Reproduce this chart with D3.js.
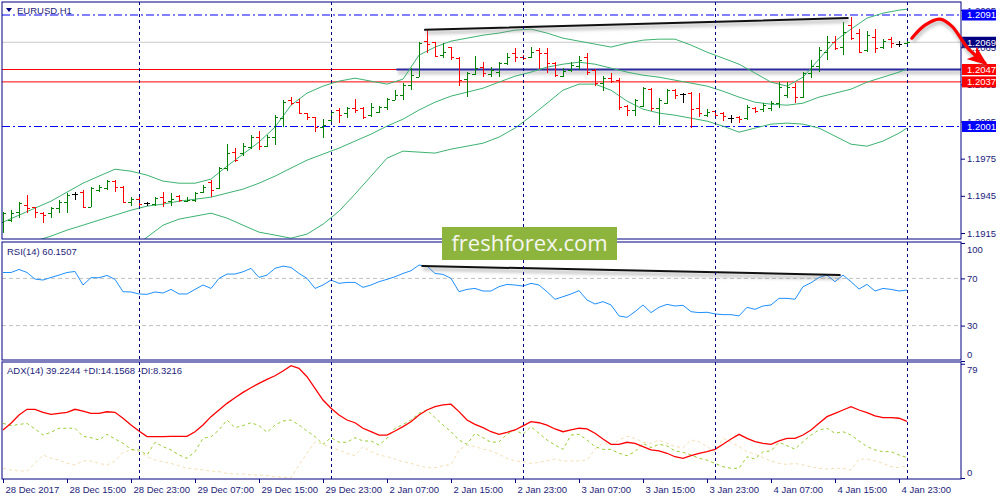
<!DOCTYPE html>
<html>
<head>
<meta charset="utf-8">
<script src="https://cdn.jsdelivr.net/npm/d3@7"></script>
<style>
  html, body { margin: 0; padding: 0; background: #fff; }
  svg { display: block; font-family: Tahoma, "Liberation Sans", Arial, sans-serif; }
</style>
</head>
<body>
<div id="chart"></div>
<script>
// EURUSD H1, 28 Dec 2017 07:00 .. 5 Jan 2018 00:00 (114 bars)
var opens = [1.19238,1.19254,1.19318,1.19375,1.19359,1.19310,1.19310,1.19351,1.19399,1.19464,
  1.19480,1.19359,1.19496,1.19512,1.19569,1.19520,1.19399,1.19423,1.19391,1.19383,
  1.19439,1.19407,1.19447,1.19407,1.19415,1.19480,1.19561,1.19512,1.19674,1.19803,
  1.19795,1.19843,1.19924,1.19851,1.19924,1.20077,1.20223,1.20206,1.20118,1.20085,
  1.20005,1.20061,1.20143,1.20118,1.20158,1.20158,1.20101,1.20126,1.20166,1.20223,
  1.20263,1.20344,1.20408,1.20699,1.20691,1.20586,1.20651,1.20562,1.20392,1.20433,
  1.20489,1.20433,1.20449,1.20521,1.20602,1.20570,1.20570,1.20626,1.20602,1.20521,
  1.20416,1.20465,1.20497,1.20570,1.20465,1.20360,1.20400,1.20384,1.20174,1.20143,
  1.20174,1.20311,1.20158,1.20198,1.20303,1.20271,1.20279,1.20158,1.20101,1.20134,
  1.20118,1.20077,1.20085,1.20077,1.20158,1.20150,1.20158,1.20198,1.20263,1.20328,
  1.20247,1.20441,1.20497,1.20610,1.20691,1.20651,1.20828,1.20764,1.20626,1.20731,
  1.20651,1.20715,1.20675,1.20683];
var highs = [1.19318,1.19334,1.19399,1.19456,1.19359,1.19318,1.19359,1.19415,1.19472,1.19480,
  1.19496,1.19520,1.19536,1.19577,1.19577,1.19528,1.19439,1.19439,1.19399,1.19439,
  1.19480,1.19472,1.19456,1.19439,1.19480,1.19536,1.19577,1.19682,1.19867,1.19835,
  1.19875,1.19940,1.19972,1.19940,1.20101,1.20223,1.20247,1.20231,1.20118,1.20085,
  1.20069,1.20143,1.20158,1.20166,1.20231,1.20166,1.20198,1.20174,1.20239,1.20303,
  1.20360,1.20481,1.20691,1.20796,1.20691,1.20683,1.20651,1.20570,1.20449,1.20578,
  1.20529,1.20489,1.20529,1.20602,1.20642,1.20586,1.20651,1.20642,1.20642,1.20529,
  1.20481,1.20529,1.20578,1.20602,1.20473,1.20416,1.20441,1.20400,1.20182,1.20231,
  1.20328,1.20319,1.20239,1.20311,1.20311,1.20279,1.20287,1.20279,1.20150,1.20143,
  1.20126,1.20101,1.20093,1.20182,1.20166,1.20198,1.20215,1.20368,1.20368,1.20360,
  1.20449,1.20546,1.20651,1.20739,1.20739,1.20852,1.20893,1.20796,1.20780,1.20796,
  1.20715,1.20731,1.20699,1.20715];
var lows = [1.19149,1.19238,1.19270,1.19310,1.19270,1.19229,1.19270,1.19310,1.19310,1.19415,
  1.19359,1.19359,1.19480,1.19496,1.19480,1.19399,1.19367,1.19367,1.19367,1.19367,
  1.19359,1.19367,1.19399,1.19399,1.19399,1.19472,1.19439,1.19504,1.19649,1.19722,
  1.19770,1.19827,1.19820,1.19843,1.19859,1.20005,1.20182,1.20118,1.20061,1.19964,
  1.19916,1.20037,1.20037,1.20077,1.20118,1.20069,1.20085,1.20118,1.20143,1.20223,
  1.20223,1.20303,1.20408,1.20602,1.20570,1.20562,1.20546,1.20336,1.20247,1.20424,
  1.20408,1.20408,1.20408,1.20505,1.20529,1.20546,1.20562,1.20473,1.20441,1.20408,
  1.20408,1.20449,1.20465,1.20424,1.20336,1.20295,1.20360,1.20143,1.20093,1.20093,
  1.20166,1.20134,1.20021,1.20190,1.20231,1.20198,1.19997,1.20085,1.20085,1.20093,
  1.20053,1.20037,1.20037,1.20061,1.20118,1.20126,1.20134,1.20158,1.20239,1.20198,
  1.20239,1.20400,1.20449,1.20546,1.20626,1.20586,1.20707,1.20602,1.20610,1.20602,
  1.20634,1.20642,1.20651,1.20651];
var closes = [1.19310,1.19310,1.19391,1.19351,1.19318,1.19294,1.19351,1.19399,1.19456,1.19464,
  1.19359,1.19512,1.19520,1.19569,1.19520,1.19399,1.19423,1.19383,1.19391,1.19431,
  1.19399,1.19423,1.19415,1.19415,1.19472,1.19520,1.19496,1.19674,1.19795,1.19738,
  1.19851,1.19924,1.19851,1.19924,1.20085,1.20206,1.20198,1.20118,1.20085,1.20005,
  1.20021,1.20126,1.20101,1.20158,1.20143,1.20085,1.20166,1.20166,1.20231,1.20263,
  1.20344,1.20424,1.20683,1.20675,1.20578,1.20610,1.20570,1.20384,1.20441,1.20481,
  1.20441,1.20465,1.20521,1.20570,1.20570,1.20562,1.20610,1.20602,1.20521,1.20424,
  1.20457,1.20505,1.20546,1.20449,1.20360,1.20400,1.20376,1.20166,1.20143,1.20223,
  1.20319,1.20158,1.20223,1.20303,1.20263,1.20271,1.20150,1.20118,1.20126,1.20101,
  1.20093,1.20077,1.20069,1.20166,1.20134,1.20182,1.20198,1.20328,1.20328,1.20247,
  1.20441,1.20497,1.20626,1.20691,1.20642,1.20772,1.20723,1.20610,1.20747,1.20642,
  1.20699,1.20683,1.20675,1.20691];

// Bollinger bands, read at every second bar (and the last one)
var bandIdx = d3.range(0, 113, 2).concat([113]);
var bbUpper = [1.19238,1.19294,1.19351,1.19407,1.19480,1.19552,1.19609,1.19665,1.19649,1.19617,
  1.19569,1.19552,1.19552,1.19585,1.19690,1.19787,1.19884,1.20005,1.20182,1.20279,
  1.20336,1.20376,1.20400,1.20376,1.20352,1.20392,1.20586,1.20651,1.20699,1.20723,
  1.20747,1.20764,1.20788,1.20796,1.20764,1.20723,1.20699,1.20675,1.20651,1.20683,
  1.20707,1.20715,1.20715,1.20667,1.20610,1.20562,1.20513,1.20441,1.20368,1.20336,
  1.20408,1.20554,1.20699,1.20796,1.20885,1.20925,1.20949,1.20957];
var bbMiddle = [1.19003,1.19044,1.19084,1.19125,1.19173,1.19213,1.19254,1.19294,1.19334,1.19367,
  1.19383,1.19407,1.19423,1.19439,1.19472,1.19504,1.19552,1.19609,1.19674,1.19738,
  1.19787,1.19835,1.19892,1.19948,1.20013,1.20069,1.20143,1.20206,1.20255,1.20287,
  1.20319,1.20368,1.20416,1.20449,1.20489,1.20513,1.20529,1.20513,1.20481,1.20449,
  1.20424,1.20408,1.20384,1.20360,1.20336,1.20295,1.20247,1.20206,1.20190,1.20182,
  1.20198,1.20247,1.20279,1.20311,1.20368,1.20408,1.20449,1.20473];
var bbLower = [1.18769,1.18794,1.18818,1.18842,1.18866,1.18874,1.18898,1.18923,1.19020,1.19116,
  1.19213,1.19262,1.19286,1.19310,1.19270,1.19213,1.19157,1.19133,1.19108,1.19141,
  1.19221,1.19326,1.19464,1.19609,1.19754,1.19811,1.19803,1.19795,1.19827,1.19851,
  1.19875,1.19924,1.19997,1.20093,1.20198,1.20303,1.20352,1.20352,1.20303,1.20215,
  1.20150,1.20118,1.20101,1.20077,1.20053,1.20013,1.19964,1.19997,1.20029,1.20037,
  1.20029,1.19997,1.19932,1.19867,1.19851,1.19892,1.19956,1.19997];

var rsi = [75,75,77.6,75,69.4,68.6,70.8,72.8,75,75.9,
  64.4,70.6,70.6,72.5,69.2,58.7,58.5,56.8,56.5,58.5,
  57.6,60.7,56.8,56.8,60.7,64.4,61.5,70,73.7,73.7,
  75.6,78.5,70.8,72.8,78.5,80.4,79.3,74.2,70,61.5,
  64.4,68.6,65.8,66.6,66.6,62.4,64.4,67.2,69.2,71.4,
  74.2,76.5,81.3,80.5,74.2,73.4,70,58.7,60.7,61.5,
  59.3,59.3,63,64.9,64.4,63.5,65.8,64.4,58.7,52.3,
  54.5,56.8,59.6,51.7,48.3,50.3,47.5,38.2,37,41.8,
  47.5,41,45.5,48,46.6,47.2,41.8,41,41.3,39.9,
  39.3,39.3,38.2,45.5,43.8,46.6,47.5,53.1,53.1,52.3,
  63,66.3,70.8,72.8,67.2,72.8,67.2,61,64.9,59.3,
  61.5,60.7,59.3,60.15];

var adx = [33.2,37.8,43.6,47.5,47.5,45.4,44,44.7,45.4,47.5,
  46.3,44.7,44.7,45.8,45.4,41.3,36.6,32.5,28.6,28.6,
  28.6,28.8,28.8,28.8,32,36.6,42.4,47,51.6,55.5,
  59.2,62.4,65.4,68.2,70.7,74,77.6,75.8,70,62,
  53.9,48.2,43.6,40.1,38.2,34.4,32,29.7,29.7,32.5,
  35.5,38.9,43.6,47,49.3,50.5,51,45.9,40.1,37.1,
  34.8,32,30.2,31.6,33.2,36,38.9,38.2,36.6,33.9,
  32,33.2,34.4,33.9,30.9,27,23.3,23.3,24.7,24,
  21.7,19.4,18.7,17.1,14.7,13.6,15.4,17.1,18.2,19.8,
  23.3,27,30.2,27.4,25.1,24,23.3,25.6,27.4,27.4,
  29.7,33.2,37.8,42.4,44.7,47,49.3,47,45.2,42.9,
  41.7,41.7,41.3,39.22];
var plusDI = [37.8,36.2,37,37.8,33.9,29.7,31.6,34.4,34.4,34.4,
  28.8,27.9,26.3,30.2,27,24,19.8,19.4,15.9,24.7,
  21.7,19.4,15.9,13.6,18.2,27.4,28.6,33.2,40.1,34.8,
  36.2,38.2,36.2,31.6,36.6,39.4,40.1,36.6,32.5,28.6,
  23.3,27.9,24.7,24.7,27.9,25.6,25.6,22.8,27.4,34.4,
  37,40.1,44.7,47,41.7,36.6,32,26.3,23.3,30.9,
  27.9,24.7,25,30.2,33.2,30.2,35.5,30.9,26.3,22.8,
  19.8,29.7,30.2,26.3,21.7,19.8,19.8,17.1,15.4,18.2,
  24,21,23.3,22.3,18.7,17.8,15.9,13.6,12.4,10.1,
  7.8,6.7,6.7,14.7,13.1,18.2,18.7,24.7,22.3,20,
  25.1,29.7,33.2,34.4,30.9,32,29.7,25.6,21.7,19.4,
  18.2,18.2,15.9,14.16];
var minusDI = [6.7,5.5,4.8,4.8,10.1,15.9,13.6,12.4,10.1,9,
  11.8,11.8,10.1,9,11.8,17.8,19.4,18.2,14.7,12.4,
  11.3,10.1,8.5,6.7,6.2,5.5,4.8,4.4,3.2,2.8,
  2.8,2.1,2.1,1.6,0.9,0.5,0.2,9,17.1,25.1,
  23.3,21,19.4,17.1,15.4,21.7,18.2,15.9,14.7,13.1,
  11.3,10.1,8.5,7.1,7.1,8.5,9.4,19.4,22.8,21.7,
  20,18.7,16.4,13.6,11.8,11.3,10.1,10.8,11.8,13.1,
  11.8,11.8,11.8,12.4,20,24,22.8,26.3,28.8,27.4,
  24.7,24,26.3,24,21.7,21,26.3,25.1,21.7,18.2,
  27.4,24.7,21.7,18.2,16.4,14,11.8,10.1,9.4,10.1,
  9,7.8,6.7,6.2,6.7,6.7,5.5,13.1,13.1,11.8,
  10.1,7.8,7.1,8.32];

var timeLabels = ["28 Dec 2017","28 Dec 15:00","28 Dec 23:00","29 Dec 07:00","29 Dec 15:00",
  "29 Dec 23:00","2 Jan 07:00","2 Jan 15:00","2 Jan 23:00","3 Jan 07:00","3 Jan 15:00",
  "3 Jan 23:00","4 Jan 07:00","4 Jan 15:00","4 Jan 23:00"];
var timeTickIdx = [0,8,16,24,32,40,48,56,64,72,80,88,96,104,112];
var daySeparators = [17, 41, 65, 89, 113];
var priceTicks = [1.1915, 1.1945, 1.1975, 1.2005, 1.2035, 1.2065, 1.2095];
var rsiTicks = [100, 70, 30, 0];
var rsiLevels = [70, 30];
var adxTicks = [79, 0];

// drawn objects on the chart
var dashLevels = [1.2091, 1.2001];
var redLevels = [1.2047, 1.2037];
var bidLevel = 1.2069;
var zoneLevel = { from: 49.25, price: 1.2047 };
var priceTrend = [[52.75, 1.20790], [105.6, 1.20885]];
var rsiTrend = [[52.4, 80.5], [104.6, 72.9]];
var arrowPts = [[113.6,1.20723],[115.25,1.20828],[117.1,1.20877],[118.6,1.20820],[120.6,1.20642],[122.75,1.20521]];
var priceMarks = [
  { v: 1.2091, bg: "#0000ff" },
  { v: 1.2069, bg: "#000080" },
  { v: 1.2047, bg: "#ff0000" },
  { v: 1.2037, bg: "#ff0000" },
  { v: 1.2001, bg: "#0000ff" }
];

var navy = "#000080", txt = "#1c1c7a";
var W = 1000, H = 500, L = 2, R = 961;
var panels = [ { top: 2, bottom: 239 }, { top: 242, bottom: 360 }, { top: 362, bottom: 479 } ];

var svg = d3.select("#chart").append("svg").attr("width", W).attr("height", H);
var defs = svg.append("defs");
panels.forEach(function (p, k) {
  defs.append("clipPath").attr("id", "clip" + k).append("rect")
    .attr("x", L).attr("y", p.top).attr("width", R - L).attr("height", p.bottom - p.top);
});
defs.append("filter").attr("id", "blur").attr("filterUnits", "userSpaceOnUse")
  .attr("x", 0).attr("y", 0).attr("width", W).attr("height", H)
  .append("feGaussianBlur").attr("stdDeviation", 1.8);
defs.append("marker").attr("id", "head").attr("markerUnits", "userSpaceOnUse")
  .attr("viewBox", "0 0 20 16").attr("refX", 17).attr("refY", 8)
  .attr("markerWidth", 20).attr("markerHeight", 16).attr("orient", "auto")
  .append("path").attr("d", "M0,0 L20,8 L0,16 L5,8 Z").attr("fill", "#ff0000");

var x = d3.scaleLinear().domain([0, 113]).range([3, 907]);
var yP = d3.scaleLinear().domain([1.1915, 1.2091]).range([233, 15]);
var yR = d3.scaleLinear().domain([0, 100]).range([361, 243]);
var yA = d3.scaleLinear().domain([0, 79.5]).range([478, 363]);

function shadowLine(g, pts, color, width, curve) {
  var line = d3.line().x(function (d) { return d[0]; }).y(function (d) { return d[1]; });
  if (curve) line.curve(curve);
  g.append("path").attr("d", line(pts)).attr("fill", "none")
    .attr("stroke", "#888").attr("stroke-opacity", 0.4).attr("stroke-width", width + 2)
    .attr("transform", "translate(1,3)").attr("filter", "url(#blur)");
  return g.append("path").attr("d", line(pts)).attr("fill", "none")
    .attr("stroke", color).attr("stroke-width", width).attr("stroke-linecap", "round");
}

// ── Panel frames & day separators ─────────────────────────
var gMain = svg.append("g").attr("clip-path", "url(#clip0)");
var gRsi = svg.append("g").attr("clip-path", "url(#clip1)");
var gAdx = svg.append("g").attr("clip-path", "url(#clip2)");

panels.forEach(function (p) {
  svg.append("g").attr("shape-rendering", "crispEdges").selectAll("line").data(daySeparators).join("line")
    .attr("x1", function (d) { return x(d) + 0.5; }).attr("x2", function (d) { return x(d) + 0.5; })
    .attr("y1", p.top).attr("y2", p.bottom)
    .attr("stroke", navy).attr("stroke-dasharray", "3,3");
});

// ── Main chart ─────────────────────────────────────────────
gMain.selectAll(".lvl-dash").data(dashLevels).join("line")
  .attr("x1", L).attr("x2", R)
  .attr("y1", function (d) { return yP(d); }).attr("y2", function (d) { return yP(d); })
  .attr("stroke", "#0000ff").attr("stroke-width", 1.2).attr("stroke-dasharray", "8,3,2,3");
gMain.append("line").attr("x1", L).attr("x2", R).attr("y1", yP(bidLevel)).attr("y2", yP(bidLevel))
  .attr("stroke", "#c8c8c8");
gMain.selectAll(".lvl-red").data(redLevels).join("line")
  .attr("x1", L).attr("x2", R)
  .attr("y1", function (d) { return yP(d); }).attr("y2", function (d) { return yP(d); })
  .attr("stroke", "#ff0000");
shadowLine(gMain, [[x(zoneLevel.from), yP(zoneLevel.price)], [R, yP(zoneLevel.price)]], "#2e2a9e", 2);

var bandLine = function (arr) {
  return d3.line().x(function (d) { return x(d); }).y(function (d, k) { return yP(arr[k]); })(bandIdx);
};
[bbUpper, bbMiddle, bbLower].forEach(function (arr) {
  gMain.append("path").attr("d", bandLine(arr)).attr("fill", "none")
    .attr("stroke", "#3cb371").attr("stroke-width", 1);
});

var bars = opens.map(function (o, i) {
  return { i: i, o: o, h: highs[i], l: lows[i], c: closes[i] };
});
function barColor(d) { return d.c > d.o ? "#008000" : (d.c < d.o ? "#ff0000" : "#000000"); }
var gBars = gMain.append("g").attr("shape-rendering", "crispEdges");
gBars.selectAll(".hl").data(bars).join("line")
  .attr("x1", function (d) { return x(d.i); }).attr("x2", function (d) { return x(d.i); })
  .attr("y1", function (d) { return yP(d.h); }).attr("y2", function (d) { return yP(d.l); })
  .attr("stroke", barColor);
gBars.selectAll(".op").data(bars).join("line")
  .attr("x1", function (d) { return x(d.i) - 3; }).attr("x2", function (d) { return x(d.i); })
  .attr("y1", function (d) { return yP(d.o); }).attr("y2", function (d) { return yP(d.o); })
  .attr("stroke", barColor);
gBars.selectAll(".cl").data(bars).join("line")
  .attr("x1", function (d) { return x(d.i); }).attr("x2", function (d) { return x(d.i) + 3; })
  .attr("y1", function (d) { return yP(d.c); }).attr("y2", function (d) { return yP(d.c); })
  .attr("stroke", barColor);

shadowLine(gMain, priceTrend.map(function (d) { return [x(d[0]), yP(d[1])]; }), "#111", 2);

// ── RSI ────────────────────────────────────────────────────
gRsi.selectAll(".lvl").data(rsiLevels).join("line")
  .attr("x1", L).attr("x2", R)
  .attr("y1", function (d) { return yR(d); }).attr("y2", function (d) { return yR(d); })
  .attr("stroke", "#c0c0c0").attr("stroke-dasharray", "4,3");
gRsi.append("path")
  .attr("d", d3.line().x(function (d, i) { return x(i); }).y(function (d) { return yR(d); })(rsi))
  .attr("fill", "none").attr("stroke", "#1e90ff").attr("stroke-width", 1);
shadowLine(gRsi, rsiTrend.map(function (d) { return [x(d[0]), yR(d[1])]; }), "#111", 2);

// ── ADX ────────────────────────────────────────────────────
var adxLine = d3.line().x(function (d, i) { return x(i); }).y(function (d) { return yA(d); });
gAdx.append("path").attr("d", adxLine(minusDI)).attr("fill", "none")
  .attr("stroke", "#f5deb3").attr("stroke-width", 1).attr("stroke-dasharray", "3,3");
gAdx.append("path").attr("d", adxLine(plusDI)).attr("fill", "none")
  .attr("stroke", "#9acd32").attr("stroke-width", 1).attr("stroke-dasharray", "3,3");
gAdx.append("path").attr("d", adxLine(adx)).attr("fill", "none")
  .attr("stroke", "#ff0000").attr("stroke-width", 1.3);

// frames on top
panels.forEach(function (p) {
  svg.append("rect").attr("x", L).attr("y", p.top).attr("width", R - L).attr("height", p.bottom - p.top)
    .attr("fill", "none").attr("stroke", navy).attr("stroke-width", 1);
});

// ── Axes ───────────────────────────────────────────────────
function styleAxis(g, size) {
  g.select(".domain").remove();
  g.selectAll("line").attr("stroke", navy);
  g.selectAll("text").attr("fill", txt).style("font-size", size)
    .style("font-family", 'Tahoma, "Liberation Sans", Arial, sans-serif');
}
var gPriceAxis = svg.append("g").attr("transform", "translate(" + R + ",0)")
  .call(d3.axisRight(yP).tickValues(priceTicks).tickFormat(d3.format(".4f")).tickSize(4).tickPadding(2));
styleAxis(gPriceAxis, "9.5px");

var gRsiAxis = svg.append("g").attr("transform", "translate(" + R + ",0)")
  .call(d3.axisRight(yR).tickValues(rsiTicks).tickSize(4).tickPadding(2));
styleAxis(gRsiAxis, "9.5px");
gRsiAxis.selectAll("text").attr("dy", function (d) { return d === 100 ? "0.95em" : (d === 0 ? "-0.35em" : "0.32em"); });

var gAdxAxis = svg.append("g").attr("transform", "translate(" + R + ",0)")
  .call(d3.axisRight(yA).tickValues(adxTicks).tickSize(4).tickPadding(2));
styleAxis(gAdxAxis, "9.5px");
gAdxAxis.selectAll("text").attr("dy", function (d) { return d === 0 ? "-0.3em" : "0.95em"; });

var gTime = svg.append("g").attr("transform", "translate(0," + panels[2].bottom + ")")
  .call(d3.axisBottom(x).tickValues(timeTickIdx)
    .tickFormat(function (d, k) { return timeLabels[k]; }).tickSize(4).tickPadding(3));
styleAxis(gTime, "9.5px");
gTime.selectAll("text").attr("text-anchor", "start").attr("dx", 2);

// price marks on the axis
var gMarks = svg.append("g").selectAll("g").data(priceMarks).join("g");
gMarks.append("rect").attr("x", R + 1).attr("y", function (d) { return yP(d.v) - 5.5; })
  .attr("width", 34).attr("height", 11).attr("fill", function (d) { return d.bg; });
gMarks.append("text").attr("x", R + 6).attr("y", function (d) { return yP(d.v); })
  .attr("dy", "0.35em").attr("fill", "#fff").style("font-size", "9.5px")
  .text(function (d) { return d3.format(".4f")(d.v); });

// forecast arrow
shadowLine(svg.append("g"), arrowPts.map(function (d) { return [x(d[0]), yP(d[1])]; }),
  "#ff0000", 3.2, d3.curveCatmullRom).attr("marker-end", "url(#head)");

// ── Titles ─────────────────────────────────────────────────
svg.append("path").attr("d", "M6,8 L12,8 L9,12 Z").attr("fill", navy);
svg.append("text").attr("x", 17).attr("y", 14).attr("fill", txt).style("font-size", "9.5px").text("EURUSD,H1");
svg.append("text").attr("x", 7).attr("y", 255).attr("fill", txt).style("font-size", "9.5px").text("RSI(14) 60.1507");
svg.append("text").attr("x", 7).attr("y", 374).attr("fill", txt).style("font-size", "9.5px")
  .text("ADX(14) 39.2244 +DI:14.1568 -DI:8.3216");

// watermark
svg.append("rect").attr("x", 442).attr("y", 227).attr("width", 175).attr("height", 33).attr("fill", "#8db53d");
svg.append("text").attr("x", 529.5).attr("y", 251).attr("text-anchor", "middle")
  .attr("fill", "#f6f6f0").style("font-family", '"Open Sans", "Noto Sans", sans-serif')
  .style("font-size", "22px").text("freshforex.com");
</script>
</body>
</html>
